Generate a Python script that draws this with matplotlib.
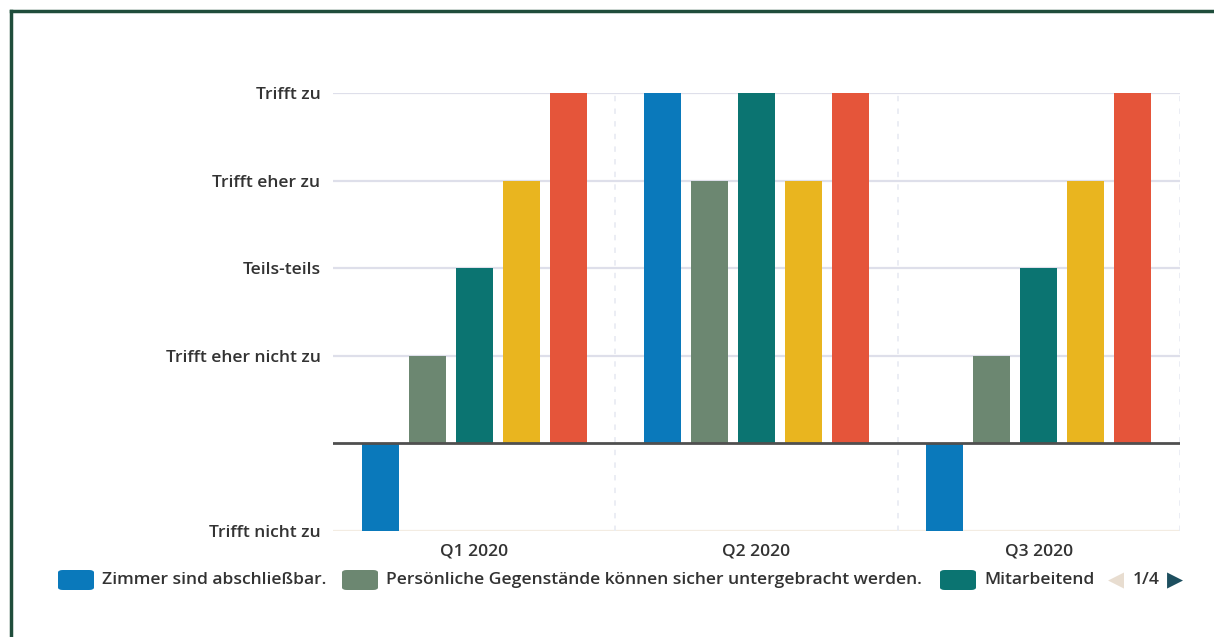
import numpy as np
import matplotlib.pyplot as plt
from matplotlib.patches import FancyBboxPatch
from matplotlib.lines import Line2D

# quarters and answer scale
quarters = ["Q1 2020", "Q2 2020", "Q3 2020"]
scale_values = [-1, 1, 2, 3, 4]
scale_labels = ["Trifft nicht zu", "Trifft eher nicht zu", "Teils-teils",
                "Trifft eher zu", "Trifft zu"]

# one list per statement, one value per quarter
zimmer = [-1, 4, -1]
gegenstaende = [1, 3, 1]
mitarbeitend = [2, 4, 2]
series_4 = [3, 3, 3]
series_5 = [4, 4, 4]

legend_names = ["Zimmer sind abschließbar.",
                "Persönliche Gegenstände können sicher untergebracht werden.",
                "Mitarbeitend"]

colors = ["#0a79bb", "#6c8771", "#0b7471", "#e9b51f", "#e5553a"]
text_color = "#333333"

plt.rcParams["font.family"] = ["Open Sans", "DejaVu Sans"]


def main():
    W, H = 1214, 637
    fig = plt.figure(figsize=(W / 100, H / 100), dpi=100)
    ax = fig.add_axes([333 / W, 1 - 531 / H, (1180 - 333) / W, (531 - 93) / H])

    series = [zimmer, gegenstaende, mitarbeitend, series_4, series_5]
    x = np.arange(len(quarters))
    step = 47 / 282
    width = 37 / 282
    for i, (vals, c) in enumerate(zip(series, colors)):
        ax.bar(x + (i - 2) * step, vals, width=width, color=c, zorder=3)

    ax.set_xlim(-0.5, 2.5)
    ax.set_ylim(-1, 4)

    # horizontal grid, baseline and quarter separators
    for v in [1, 2, 3, 4]:
        ax.axhline(v, color="#dedfea", lw=1.6, zorder=1)
    ax.axhline(-1, color="#f3ece2", lw=1.6, zorder=1)
    ax.axhline(0, color="#4f4f4f", lw=2.0, zorder=4)
    for sep in [0.5, 1.5, 2.5]:
        ax.axvline(sep, color="#e9ecf3", lw=1.3, ls=(0, (3, 4)), zorder=1)

    for s in ax.spines.values():
        s.set_visible(False)
    ax.set_yticks(scale_values)
    ax.set_yticklabels(scale_labels)
    ax.set_xticks(x)
    ax.set_xticklabels(quarters)
    fs = 12.6
    ax.tick_params(axis="y", length=0, pad=9, labelsize=fs, labelcolor=text_color)
    ax.tick_params(axis="x", length=0, pad=9, labelsize=fs, labelcolor=text_color)
    for lab in ax.get_yticklabels() + ax.get_xticklabels():
        lab.set_fontweight("semibold")

    # legend row along the bottom
    ly = 1 - 580 / H
    entries = [(58, legend_names[0]), (342, legend_names[1]), (940, legend_names[2])]
    for (px, name), c in zip(entries, colors):
        patch = FancyBboxPatch((px / W, ly - 10 / H), 36 / W, 20 / H,
                               boxstyle="round,pad=0,rounding_size=0.004",
                               transform=fig.transFigure, facecolor=c,
                               edgecolor="none")
        fig.patches.append(patch)
        fig.text((px + 44) / W, ly, name, ha="left", va="center",
                 fontsize=fs, fontweight="semibold", color=text_color)

    fig.text(1116 / W, ly, "◀", ha="center", va="center", fontsize=15,
             color="#e8ddd0", family="DejaVu Sans")
    fig.text(1146 / W, ly, "1/4", ha="center", va="center", fontsize=fs,
             fontweight="semibold", color=text_color)
    fig.text(1175 / W, ly, "▶", ha="center", va="center", fontsize=15,
             color="#1d4f5f", family="DejaVu Sans")

    # dark green frame on the top and left edges
    frame_c = "#1f4d3b"
    fig.add_artist(Line2D([11 / W, 11 / W], [0, 1 - 11 / H], color=frame_c,
                          lw=2.5, transform=fig.transFigure))
    fig.add_artist(Line2D([11 / W, 1], [1 - 11 / H, 1 - 11 / H], color=frame_c,
                          lw=2.5, transform=fig.transFigure))

    fig.savefig("out.png", dpi=100)


if __name__ == "__main__":
    main()
